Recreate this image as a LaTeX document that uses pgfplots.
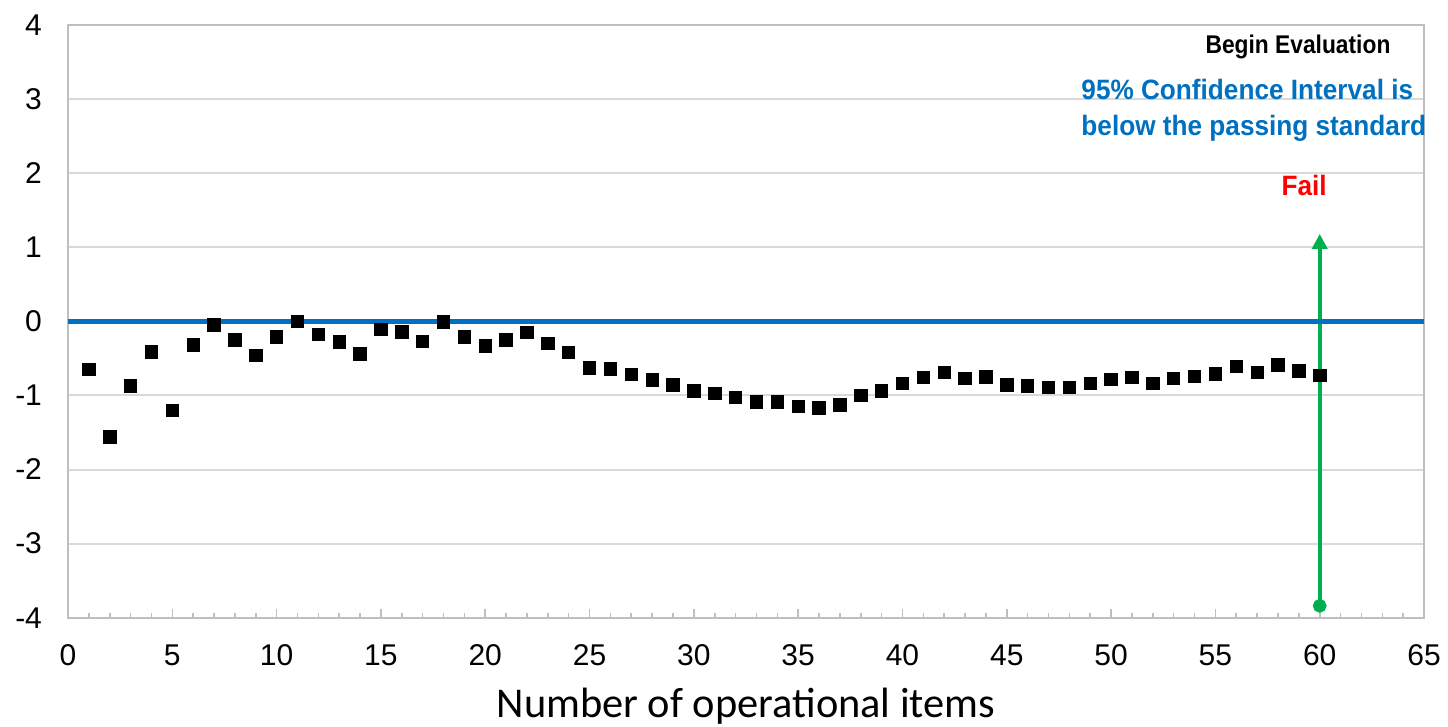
\documentclass[border=0pt]{standalone}
\usepackage{fontspec}
\setmainfont{Liberation Sans}
\newfontfamily\narrowfont[FakeStretch=0.89]{Liberation Sans}
\newfontfamily\semifont[FakeStretch=0.935]{Liberation Sans}
\newfontfamily\calfont{Carlito}
\usepackage{pgfplots}
\pgfplotsset{compat=1.18}
\usetikzlibrary{arrows.meta}
\definecolor{axgray}{HTML}{BFBFBF}
\definecolor{gridgray}{HTML}{D9D9D9}
\definecolor{xlblue}{HTML}{0070C0}
\definecolor{xlgreen}{HTML}{00B050}
\definecolor{xlred}{HTML}{FF0000}
\begin{document}
\begin{tikzpicture}
\begin{axis}[
  scale only axis, width=678pt, height=296.35pt,
  xmin=0, xmax=65, ymin=-4, ymax=4,
  xtick={0,5,...,65}, minor x tick num=4,
  ytick={-4,-3,...,4},
  xtick pos=bottom, ytick pos=left,
  tick align=inside,
  major tick length=4.5pt, minor tick length=2.5pt,
  xtick style={axgray, line width=0.8pt},
  minor x tick style={axgray, line width=0.8pt},
  ytick style={draw=none},
  ymajorgrids, major grid style={gridgray, line width=1pt},
  axis line style={axgray, line width=1pt},
  tick label style={font=\fontsize{15}{18}\selectfont},
  /pgf/number format/assume math mode=true,
  xticklabel style={yshift=-10pt},
  yticklabel style={xshift=-9.5pt},
  xlabel={\calfont\fontsize{21.2}{25}\selectfont Number of operational items},
  xlabel style={at={(axis description cs:0.5,0)}, anchor=center, yshift=-44.5pt},
  clip=false,
]
\coordinate (sw) at (rel axis cs:0,0);
\coordinate (ne) at (rel axis cs:1,1);
% green arrow
\addplot[xlgreen, line width=2pt, -{Triangle[length=7.5pt,width=7.5pt]}, mark=*, mark size=2.4pt, mark indices={1}, mark options={solid, fill=xlgreen, draw=xlgreen}]
  coordinates {(60,-3.84) (60,1.18)};
% passing standard
\addplot[xlblue, line width=2.5pt, no marks] coordinates {(0,0) (65,0)};
% points
\addplot[only marks, mark=square*, mark size=3.1pt, black] coordinates {
(1,-0.65) (2,-1.56) (3,-0.87) (4,-0.41) (5,-1.20) (6,-0.32) (7,-0.05) (8,-0.25)
(9,-0.46) (10,-0.21) (11,0.00) (12,-0.18) (13,-0.28) (14,-0.44) (15,-0.11)
(16,-0.14) (17,-0.27) (18,-0.01) (19,-0.21) (20,-0.33) (21,-0.25) (22,-0.15)
(23,-0.30) (24,-0.42) (25,-0.63) (26,-0.64) (27,-0.72) (28,-0.79) (29,-0.86)
(30,-0.94) (31,-0.97) (32,-1.03) (33,-1.09) (34,-1.09) (35,-1.15) (36,-1.17)
(37,-1.13) (38,-1.00) (39,-0.94) (40,-0.84) (41,-0.76) (42,-0.69) (43,-0.77)
(44,-0.75) (45,-0.86) (46,-0.87) (47,-0.89) (48,-0.89) (49,-0.84) (50,-0.78)
(51,-0.76) (52,-0.84) (53,-0.77) (54,-0.74) (55,-0.71) (56,-0.61) (57,-0.69)
(58,-0.59) (59,-0.67) (60,-0.73)
};
\node[font=\narrowfont\bfseries\fontsize{12.8}{15}\selectfont, text=black] at (axis cs:58.96,3.70) {Begin Evaluation};
\node[font=\semifont\bfseries\fontsize{14}{17.8}\selectfont, text=xlblue, align=left, anchor=west, inner sep=0pt] at (axis cs:48.56,2.85) {95\% Confidence Interval is\\below the passing standard};
\node[font=\semifont\bfseries\fontsize{14}{17}\selectfont, text=xlred] at (axis cs:59.25,1.83) {Fail};
\end{axis}
\pgfresetboundingbox
\path[use as bounding box] ([shift={(-34pt,-54.65pt)}]sw) rectangle ([shift={(12pt,12.5pt)}]ne);
\end{tikzpicture}
\end{document}
